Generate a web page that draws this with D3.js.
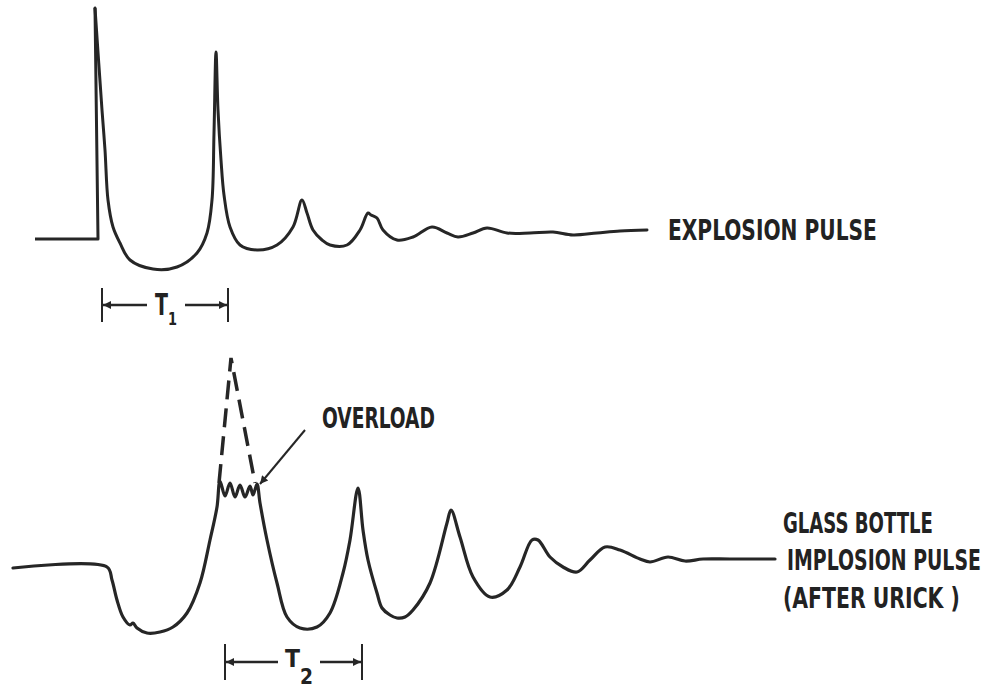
<!DOCTYPE html>
<html>
<head>
<meta charset="utf-8">
<script src="https://cdn.jsdelivr.net/npm/d3@7"></script>
<style>
  body { margin: 0; background: #fff; }
  text { font-family: "Liberation Sans Narrow", "DejaVu Sans Condensed", sans-serif; font-weight: bold; fill: #222; }
</style>
</head>
<body>
<div id="chart"></div>
<script>
// time (arbitrary units) and relative pressure
// the explosion pulse starts with a step and a sharp spike (first 3 points drawn straight)
var explosionT = [3.5, 9.8, 9.5, 10.2, 10.5, 10.8, 11.3, 12.0, 13.0, 15.3, 17.7, 19.7, 20.7, 21.2, 21.4, 21.6,
  21.8, 22.1, 22.4, 23.0, 24.0, 25.7, 27.7, 29.3, 30.2, 30.7, 31.3, 32.2, 33.0, 34.7, 36.0, 36.8, 37.1, 37.7, 38.3, 39.7,
  41.3, 43.2, 44.7, 45.8, 47.3, 48.7, 50.7, 53.0, 55.3, 57.3, 59.7, 62.0, 64.7]
var explosionP = [0, 0, 23.1, 12.9, 8.9, 3.9, 1.2, -0.4, -2.1, -3.0, -2.8, -1.4, 0.6, 3.9, 10.6, 18.7,
  12.9, 7.9, 4.4, 1.2, -0.6, -1.1, -0.6, 1.2, 3.9, 2.6, 0.9, -0.1, -0.6, -0.6, 0.9, 2.6, 2.4, 2.1, 0.9, -0.1,
  0.2, 1.2, 0.6, 0.2, 0.6, 1.1, 0.6, 0.6, 0.7, 0.4, 0.6, 0.8, 0.9]

var implosionT = [1.3, 10.7, 11.2, 11.7, 12.3, 13.0, 13.3, 13.7, 14.7, 16.0, 17.3, 18.7, 20.0, 21.0, 21.7, 22.0,
  22.5, 23.0, 23.5, 24.0, 24.5, 25.0, 25.3, 25.7,
  26.0, 26.7, 27.7, 28.7, 30.0, 31.7, 33.0, 34.3, 35.0, 35.8, 36.3, 36.8, 37.7, 38.2, 39.0, 39.7, 40.5, 41.3, 43.0,
  44.7, 45.1, 46.0, 47.3, 49.0, 50.7, 52.0, 53.2, 53.8, 55.0, 56.3, 57.7, 59.0, 60.5, 62.0, 64.0, 65.0, 66.8, 68.5,
  70.3, 73.0, 77.5]
var implosionP = [-0.1, 0, -1.3, -3.3, -5.0, -5.8, -5.6, -6.1, -6.6, -6.5, -6.0, -4.6, -1.6, 2.7, 6.0, 8.6,
  7.1, 8.4, 7.0, 8.2, 7.0, 8.1, 7.2, 8.3,
  6.4, 2.7, -1.6, -5.0, -6.1, -6.0, -4.6, -0.6, 2.7, 7.9, 3.7, 0.7, -2.6, -4.1, -4.8, -5.1, -5.0, -4.3, -1.6,
  4.4, 5.7, 3.0, -1.0, -3.0, -2.3, 0, 2.7, 2.7, 1.0, 0, -0.5, 0.7, 2.0, 1.7, 0.8, 0.5, 1.0, 0.6, 0.8, 0.8, 0.8]

// dashed line: the true peak that the gauge could not record
var overloadT = [21.9, 23.1, 25.5]
var overloadP = [8.4, 20.9, 8.4]

var t1 = [10.2, 22.8]
var t2 = [22.5, 36.2]

var width = 985, height = 689
var ink = "#262626"

var svg = d3.select("#chart").append("svg")
  .attr("width", width)
  .attr("height", height)

var x = d3.scaleLinear().domain([0, 98.5]).range([0, 985])
var yTop = d3.scaleLinear().domain([0, 10]).range([239, 139])
var yBot = d3.scaleLinear().domain([0, 10]).range([567, 467])

var defs = svg.append("defs")
defs.append("marker")
  .attr("id", "head")
  .attr("viewBox", "0 0 10 10")
  .attr("refX", 10).attr("refY", 5)
  .attr("markerWidth", 14).attr("markerHeight", 8)
  .attr("markerUnits", "userSpaceOnUse")
  .attr("orient", "auto")
  .append("path").attr("d", "M0,0L10,5L0,10Z").attr("fill", ink)

function trace(ts, ps, y, curve) {
  return d3.line()
    .x(function(d) { return x(ts[d]) })
    .y(function(d) { return y(ps[d]) })
    .curve(curve)(d3.range(ts.length))
}

function drawTrace(ts, ps, y, sw) {
  svg.append("path")
    .attr("d", trace(ts, ps, y, d3.curveCatmullRom.alpha(0.5)))
    .attr("fill", "none").attr("stroke", ink).attr("stroke-width", sw)
    .attr("stroke-linejoin", "round").attr("stroke-linecap", "round")
}

// explosion pulse: straight step + rise, then smooth decay
var k = 2
svg.append("path")
  .attr("d", trace(explosionT.slice(0, k + 1), explosionP.slice(0, k + 1), yTop, d3.curveLinear))
  .attr("fill", "none").attr("stroke", ink).attr("stroke-width", 3)
  .attr("stroke-linejoin", "round")
drawTrace(explosionT.slice(k), explosionP.slice(k), yTop, 3)

// implosion pulse
drawTrace(implosionT, implosionP, yBot, 3.2)

svg.append("path")
  .attr("d", trace(overloadT, overloadP, yBot, d3.curveLinear))
  .attr("fill", "none").attr("stroke", ink).attr("stroke-width", 3.5)
  .attr("stroke-dasharray", "19 9")

// overload arrow
svg.append("line")
  .attr("x1", x(30.5)).attr("y1", 430)
  .attr("x2", x(26.0)).attr("y2", 484)
  .attr("stroke", ink).attr("stroke-width", 2)
  .attr("marker-end", "url(#head)")

// condensed bold lettering: squeeze each label to the width it has in the figure
function label(str, x0, yb, w, size) {
  var g = svg.append("g")
  var t = g.append("text").attr("font-size", size).text(str)
  var n = t.node().getComputedTextLength()
  g.attr("transform", "translate(" + x0 + "," + yb + ") scale(" + (w / n) + ",1)")
}

label("EXPLOSION PULSE", 668, 240, 209, 28)
label("OVERLOAD", 322, 428, 113, 29)
label("GLASS BOTTLE", 783, 533, 150, 28)
label("IMPLOSION PULSE", 787, 570, 194, 28)
label("(AFTER URICK )", 783, 608, 177, 28)

// period markers
function period(span, yc, barH, gapL, gapR) {
  var a = x(span[0]), b = x(span[1])
  var g = svg.append("g")
  g.selectAll("line.bar").data([a, b]).enter().append("line")
    .attr("x1", function(d) { return d }).attr("x2", function(d) { return d })
    .attr("y1", yc - barH / 2).attr("y2", yc + barH / 2)
    .attr("stroke", ink).attr("stroke-width", 2)
  g.append("line").attr("x1", gapL).attr("x2", a + 1).attr("y1", yc).attr("y2", yc)
    .attr("stroke", ink).attr("stroke-width", 2.5).attr("marker-end", "url(#head)")
  g.append("line").attr("x1", gapR).attr("x2", b - 1).attr("y1", yc).attr("y2", yc)
    .attr("stroke", ink).attr("stroke-width", 2.5).attr("marker-end", "url(#head)")
}
period(t1, 305, 34, 147, 185)
period(t2, 662, 36, 278, 320)

label("T", 155, 315, 13, 30)
label("1", 168, 325, 9, 18)
label("T", 285, 667, 15, 24)
label("2", 300, 684, 13, 22)
</script>
</body>
</html>
